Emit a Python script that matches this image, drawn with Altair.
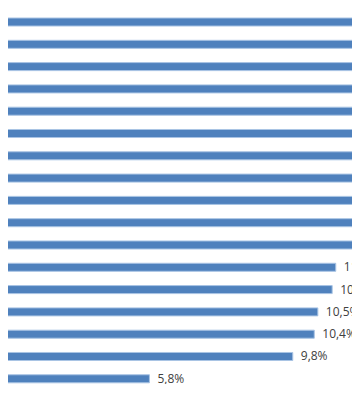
import altair as alt
import pandas as pd

# categories (names are cut off in the reference, top to bottom)
categories = [f"Item {i}" for i in range(1, 18)]
# values in %, top to bottom (upper bars extend past the visible edge)
values = [17.4, 16.1, 15.2, 14.5, 13.8, 13.3, 12.9, 12.4, 12.0, 11.6, 11.5,
          11.0, 10.9, 10.5, 10.4, 9.8, 5.8]

labels = [f"{v:.1f}".replace(".", ",") + "%" for v in values]
df = pd.DataFrame({"cat": categories, "value": values, "label": labels})

y = alt.Y("cat:N", sort=categories, axis=None,
          scale=alt.Scale(paddingInner=0.64, paddingOuter=0, range=[10, 374.8]))
xs = alt.Scale(domain=[1.853, 11.453], zero=False, nice=False)

bars = alt.Chart(df).mark_bar(
    color="#4f81bd", stroke="#a9c4e4", strokeWidth=1, clip=True
).encode(
    x=alt.X("value:Q", scale=xs, axis=None),
    x2=alt.datum(0),
    y=y,
)

text = alt.Chart(df).mark_text(
    align="left", baseline="middle", dx=8, clip=True,
    font="Open Sans", fontSize=12, color="#404040"
).encode(
    x=alt.X("value:Q", scale=xs, axis=None),
    y=y,
    text="label:N",
)

chart = (bars + text).properties(
    width=344, height=376, padding=0, background="white"
).configure_view(stroke=None)

chart.save("out.html", embed_options={"renderer": "svg", "actions": False})
